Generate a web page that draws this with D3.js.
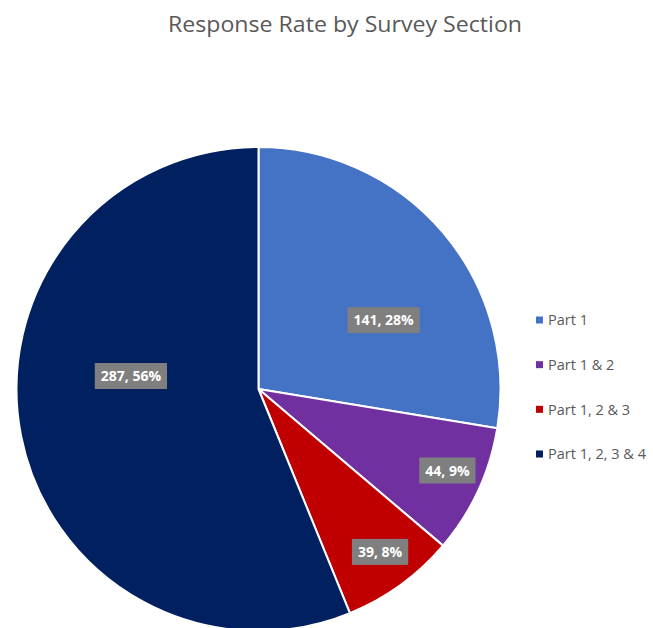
<!DOCTYPE html>
<html><head><meta charset="utf-8">
<script src="https://cdn.jsdelivr.net/npm/d3@7"></script>
<style>html,body{margin:0;padding:0;background:#fff;overflow:hidden}</style>
</head><body>
<script>
const categories = ["Part 1", "Part 1 & 2", "Part 1, 2 & 3", "Part 1, 2, 3 & 4"];
const counts = [141, 44, 39, 287];
const colors = ["#4472C4", "#7030A0", "#C00000", "#002060"];
const title = "Response Rate by Survey Section";

const W = 653, H = 628;
const cx = 258.5, cy = 389, R = 242;
// label placement (layout): radius fraction and angle shift (degrees) per slice
const labelRadiusFrac = [0.59, 0.85, 0.84, 0.53];
const labelAngleShift = [11.5, -1.5, -0.8, 16.9];

const svg = d3.select("body").append("svg").attr("width", W).attr("height", H);
const total = d3.sum(counts);
const data = categories.map((c, i) => ({cat: c, value: counts[i], color: colors[i], i}));

svg.append("text").attr("x", 345).attr("y", 32).attr("text-anchor", "middle")
  .attr("font-family", "Open Sans, sans-serif").attr("font-size", 21.5)
  .attr("fill", "#595959").attr("textLength", 354).attr("lengthAdjust", "spacingAndGlyphs")
  .text(title);

const pie = d3.pie().value(d => d.value).sort(null);
const arcs = pie(data);
const arc = d3.arc().innerRadius(0).outerRadius(R);
const g = svg.append("g").attr("transform", `translate(${cx},${cy})`);
g.selectAll("path").data(arcs).join("path")
  .attr("d", arc).attr("fill", d => d.data.color)
  .attr("stroke", "#fff").attr("stroke-width", 2).attr("stroke-linejoin", "round");

const lg = g.selectAll("g.lbl").data(arcs).join("g").attr("class", "lbl")
  .attr("transform", d => {
    const a = (d.startAngle + d.endAngle) / 2 + labelAngleShift[d.data.i] * Math.PI / 180;
    const r = R * labelRadiusFrac[d.data.i];
    return `translate(${r * Math.sin(a)},${-r * Math.cos(a)})`;
  });
lg.each(function(d) {
  const s = d3.select(this);
  const t = s.append("text").attr("text-anchor", "middle").attr("dy", "0.36em")
    .attr("font-family", "Open Sans, sans-serif").attr("font-weight", "bold").attr("font-size", 14)
    .attr("fill", "#fff")
    .text(`${d.data.value}, ${Math.round(d.data.value / total * 100)}%`);
  const w = t.node().getComputedTextLength();
  s.insert("rect", "text").attr("x", -w / 2 - 6).attr("y", -13).attr("width", w + 12).attr("height", 26)
    .attr("fill", "#7F7F7F");
});

const legY = d3.scalePoint().domain(categories).range([320, 454]);
const leg = svg.append("g");
data.forEach(d => {
  const y = legY(d.cat);
  leg.append("rect").attr("x", 536).attr("y", y - 3.5).attr("width", 7).attr("height", 7).attr("fill", d.color);
  leg.append("text").attr("x", 548).attr("y", y).attr("dy", "0.36em")
    .attr("font-family", "Open Sans, sans-serif").attr("font-size", 14.5).attr("fill", "#595959").text(d.cat);
});
</script>
</body></html>
